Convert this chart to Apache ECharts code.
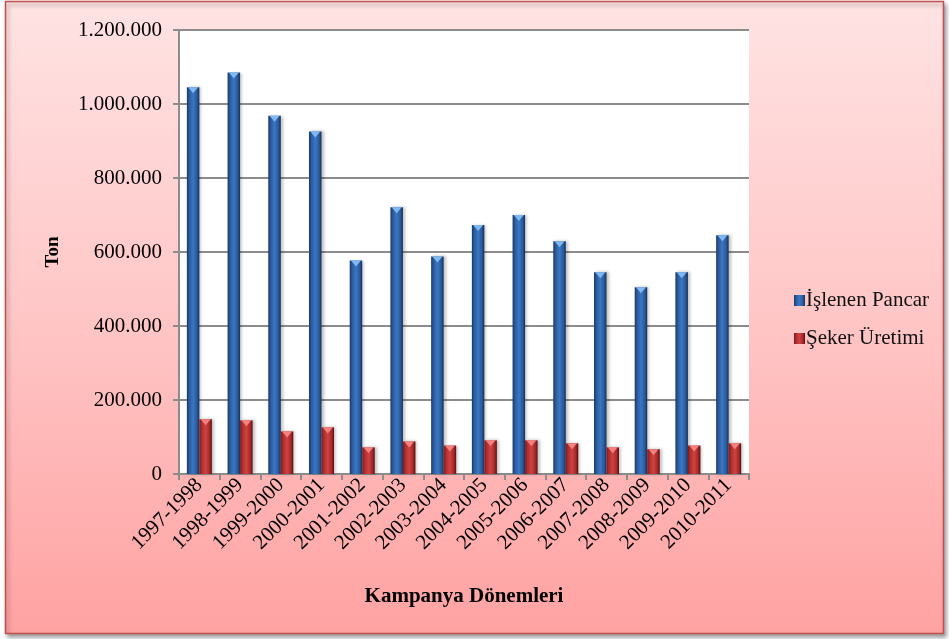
<!DOCTYPE html>
<html>
<head>
<meta charset="utf-8">
<script src="https://cdn.jsdelivr.net/npm/echarts@6/dist/echarts.min.js"></script>
<style>
    html, body { margin: 0; padding: 0; background: #fff; }
    #chart { width: 949px; height: 639px; }
</style>
</head>
<body>
<div id="chart"></div>
<script>
// kampanya dönemleri
var donemler = ['1997-1998', '1998-1999', '1999-2000', '2000-2001', '2001-2002', '2002-2003', '2003-2004',
    '2004-2005', '2005-2006', '2006-2007', '2007-2008', '2008-2009', '2009-2010', '2010-2011'];

// ton
var islenenPancar = [1045000, 1085000, 968000, 926000, 577000, 721000, 588000,
    673000, 700000, 629000, 545000, 505000, 545000, 645000];
var sekerUretimi = [148000, 145000, 115000, 126000, 72000, 88000, 77000,
    91000, 91000, 83000, 72000, 67000, 77000, 83000];

var yTicks = { min: 0, max: 1200000, interval: 200000 };

var fontFam = "'Liberation Serif', 'Times New Roman', serif";
var barW = 12.5;

function noktali(v) {
    return String(v).replace(/\B(?=(\d{3})+(?!\d))/g, '.');
}

var maviRenk = {
    type: 'linear', x: 0, y: 0, x2: 1, y2: 0,
    colorStops: [
        { offset: 0, color: '#1b3764' },
        { offset: 0.2, color: '#2b5c9e' },
        { offset: 0.5, color: '#3a77c3' },
        { offset: 0.8, color: '#2a5a9b' },
        { offset: 1, color: '#172f58' }
    ]
};
var kirmiziRenk = {
    type: 'linear', x: 0, y: 0, x2: 1, y2: 0,
    colorStops: [
        { offset: 0, color: '#7a1a1a' },
        { offset: 0.2, color: '#b02e2e' },
        { offset: 0.5, color: '#cf4242' },
        { offset: 0.8, color: '#a82a2a' },
        { offset: 1, color: '#5a0e0e' }
    ]
};

var chart = echarts.init(document.getElementById('chart'));

chart.setOption({
    backgroundColor: '#ffffff',
    animation: false,
    graphic: [{
        type: 'rect',
        z: -10,
        shape: { x: 5.5, y: 1.5, width: 938, height: 632 },
        style: {
            fill: {
                type: 'linear', x: 0, y: 0, x2: 0, y2: 1,
                colorStops: [
                    { offset: 0, color: '#ffe3e3' },
                    { offset: 0.5, color: '#ffc6c6' },
                    { offset: 1, color: '#ffa2a2' }
                ]
            },
            stroke: '#c0504d',
            lineWidth: 1.5,
            shadowBlur: 4,
            shadowOffsetX: 2,
            shadowOffsetY: 3,
            shadowColor: 'rgba(0,0,0,0.35)'
        }
    }],
    grid: {
        left: 179,
        top: 30,
        right: 200,
        bottom: 165,
        show: true,
        backgroundColor: '#ffffff',
        borderWidth: 0
    },
    legend: {
        orient: 'vertical',
        left: 789,
        top: 285,
        itemGap: 17,
        itemWidth: 11,
        itemHeight: 11,
        icon: 'rect',
        data: ['İşlenen Pancar', 'Şeker Üretimi'],
        textStyle: { fontFamily: fontFam, fontSize: 21, color: '#111', padding: [0, 0, 0, -4] }
    },
    xAxis: {
        type: 'category',
        data: donemler,
        name: 'Kampanya Dönemleri',
        nameLocation: 'middle',
        nameGap: 112,
        nameTextStyle: { fontFamily: fontFam, fontSize: 21, fontWeight: 'bold', color: '#000' },
        axisLine: { lineStyle: { color: '#8c8c8c', width: 2 } },
        axisTick: { show: true, length: 6, lineStyle: { color: '#8c8c8c', width: 2 } },
        axisLabel: { rotate: 45, margin: 8, fontFamily: fontFam, fontSize: 21, color: '#000' }
    },
    yAxis: {
        type: 'value',
        min: yTicks.min,
        max: yTicks.max,
        interval: yTicks.interval,
        name: 'Ton',
        nameLocation: 'middle',
        nameGap: 116,
        nameTextStyle: { fontFamily: fontFam, fontSize: 19, fontWeight: 'bold', color: '#000' },
        axisLine: { show: true, lineStyle: { color: '#8c8c8c', width: 2 } },
        axisTick: { show: true, length: 6, lineStyle: { color: '#8c8c8c', width: 2 } },
        splitLine: { lineStyle: { color: '#8c8c8c', width: 2 } },
        axisLabel: {
            margin: 17,
            fontFamily: fontFam,
            fontSize: 21,
            color: '#000',
            formatter: noktali
        }
    },
    series: [{
        name: 'İşlenen Pancar',
        type: 'bar',
        barWidth: barW,
        barGap: 0,
        data: islenenPancar,
        itemStyle: {
            color: maviRenk,
            shadowBlur: 3,
            shadowOffsetX: 2,
            shadowColor: 'rgba(0,0,0,0.25)'
        }
    }, {
        name: 'Şeker Üretimi',
        type: 'bar',
        barWidth: barW,
        barGap: 0,
        data: sekerUretimi,
        itemStyle: {
            color: kirmiziRenk,
            shadowBlur: 3,
            shadowOffsetX: 2,
            shadowColor: 'rgba(0,0,0,0.25)'
        }
    }, {
        // bar tepesindeki üçgen parlama
        name: 'pancarTepe',
        type: 'pictorialBar',
        symbol: 'triangle',
        symbolRotate: 180,
        symbolSize: [10, 6],
        symbolPosition: 'end',
        symbolOffset: [-barW / 2, 0],
        z: 5,
        data: islenenPancar,
        itemStyle: { color: '#80b8f2' }
    }, {
        name: 'sekerTepe',
        type: 'pictorialBar',
        symbol: 'triangle',
        symbolRotate: 180,
        symbolSize: [10, 6],
        symbolPosition: 'end',
        symbolOffset: [barW / 2, 0],
        z: 5,
        data: sekerUretimi,
        itemStyle: { color: '#f58080' }
    }]
});
</script>
</body>
</html>
